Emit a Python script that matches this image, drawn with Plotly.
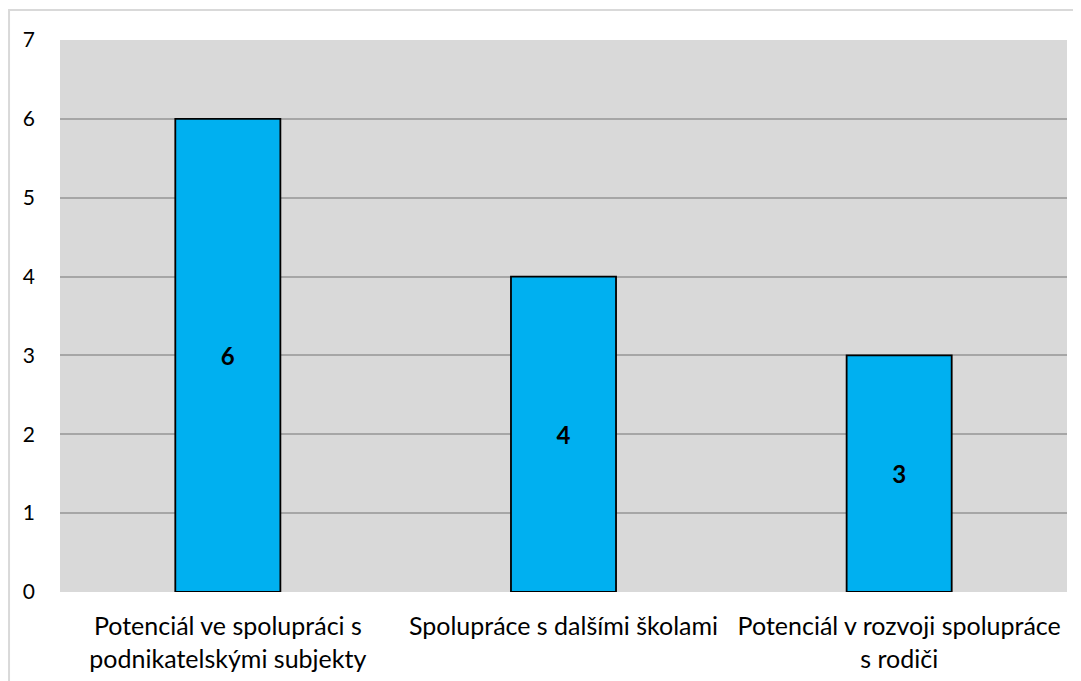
import plotly.graph_objects as go

categories = ["Potenciál ve spolupráci s<br>podnikatelskými subjekty",
              "Spolupráce s dalšími školami",
              "Potenciál v rozvoji spolupráce<br>s rodiči"]
values = [6, 4, 3]
y_ticks = [0, 1, 2, 3, 4, 5, 6, 7]

fig = go.Figure()
fig.add_trace(go.Bar(
    x=categories, y=values,
    text=[str(v) for v in values],
    textposition="inside", insidetextanchor="middle",
    textfont=dict(family="Lato", size=24, color="black", weight="bold"),
    marker=dict(color="#00b0f0", line=dict(color="black", width=1.8)),
    width=0.313,
))

# page body has an 8px margin, so margins are shifted to keep the plot area in place
fig.update_layout(
    width=1081, height=681,
    margin=dict(l=52, r=22, t=32, b=97),
    paper_bgcolor="white", plot_bgcolor="#d9d9d9",
    showlegend=False,
    font=dict(family="Lato", size=21, color="black"),
    xaxis=dict(tickfont=dict(size=25), showgrid=False, zeroline=False, showline=False,
               ticks="", ticklabelstandoff=17),
    yaxis=dict(range=[0, 7], tickvals=y_ticks, showgrid=True, gridcolor="#a6a6a6",
               gridwidth=2, zeroline=False, showline=False, ticks="", ticklabelstandoff=24),
    shapes=[dict(type="rect", xref="paper", yref="paper",
                 x0=-0.0506, x1=1.0129, y0=-0.3, y1=1.0543,
                 line=dict(color="#d9d9d9", width=2), fillcolor="rgba(0,0,0,0)", layer="below")],
)

fig.write_html("out.html")
